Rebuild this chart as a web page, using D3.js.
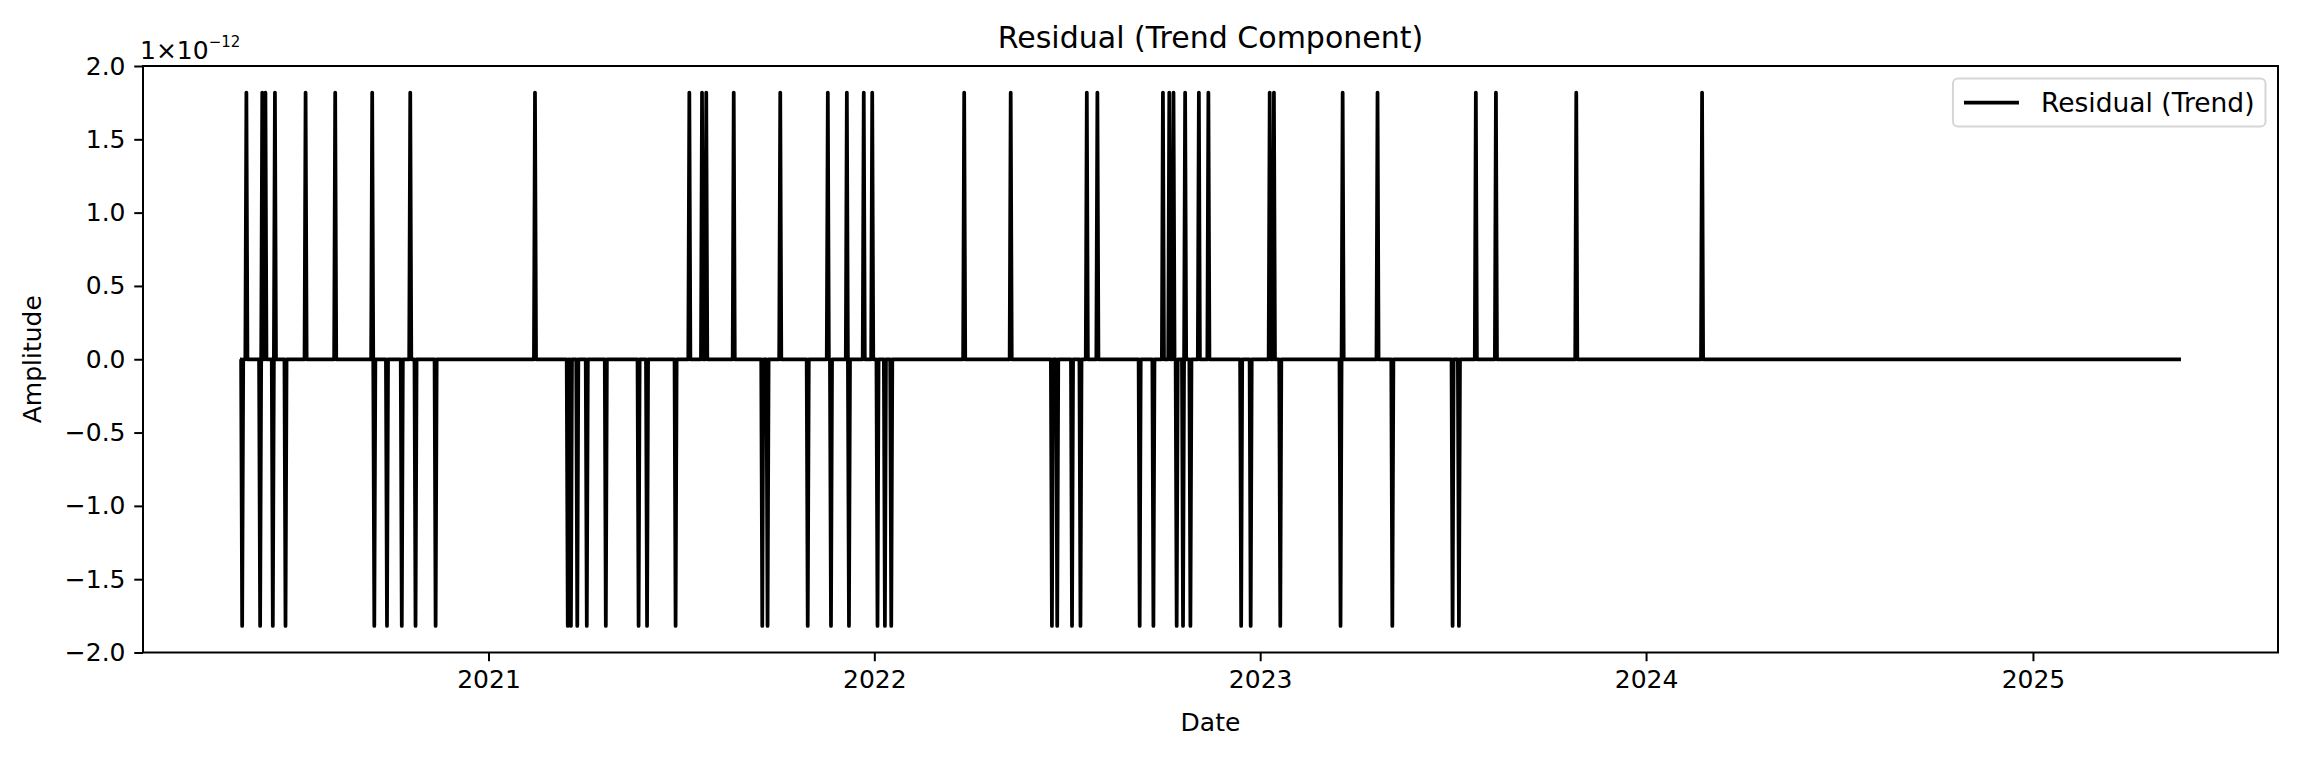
<!DOCTYPE html>
<html><head><meta charset="utf-8">
<script src="https://cdn.jsdelivr.net/npm/d3@7"></script>
<style>
body{margin:0;background:#fff}
svg text{font-family:"DejaVu Sans",sans-serif;fill:#000}
</style>
</head><body>
<svg id="c" width="2299" height="757"></svg>
<script>
// ---- data ----
const startDate = "2020-05-11";
const endDate   = "2025-05-21";
const baseValue = 0;
const spikeDates = [
 "2020-05-13","2020-05-17","2020-05-30","2020-06-01","2020-06-04","2020-06-11","2020-06-13","2020-06-23",
 "2020-07-12","2020-08-09","2020-09-13","2020-09-15","2020-09-27","2020-10-11","2020-10-19","2020-10-24","2020-11-12",
 "2021-02-14","2021-03-17","2021-03-20","2021-03-26","2021-04-04","2021-04-22","2021-05-23","2021-05-31","2021-06-27",
 "2021-07-10","2021-07-22","2021-07-26","2021-08-21","2021-09-17","2021-09-22","2021-10-04","2021-10-30",
 "2021-11-18","2021-11-21","2021-12-06","2021-12-08","2021-12-22","2021-12-30",
 "2022-01-04","2022-01-11","2022-01-17","2022-03-27","2022-05-10","2022-06-18","2022-06-23","2022-07-07","2022-07-15",
 "2022-07-21","2022-07-31","2022-09-09","2022-09-22","2022-10-01","2022-10-07","2022-10-11","2022-10-14","2022-10-20",
 "2022-10-22","2022-10-27","2022-11-04","2022-11-13","2022-12-14","2022-12-23",
 "2023-01-10","2023-01-14","2023-01-20","2023-03-18","2023-03-20","2023-04-22","2023-05-06","2023-07-02","2023-07-08",
 "2023-07-24","2023-08-12","2023-10-27",
 "2024-02-23"
];
const U = 1.819e-12, D = -1.819e-12;
const spikeValues = [
 D,U,D,U,U,D,U,D,
 U,U,U,D,D,D,U,D,D,
 U,D,D,D,D,D,D,D,D,
 U,U,U,U,D,D,U,D,
 U,D,U,D,U,U,
 D,D,D,U,U,D,D,D,D,
 U,U,D,D,U,U,U,D,D,
 U,D,U,U,D,D,
 U,U,D,D,U,U,D,D,D,
 U,U,U,
 U
];
const yTickValues = [-2e-12,-1.5e-12,-1e-12,-0.5e-12,0,0.5e-12,1e-12,1.5e-12,2e-12];
const xTickYears = [2021,2022,2023,2024,2025];
const titleText = "Residual (Trend Component)";
const xLabel = "Date", yLabel = "Amplitude", legendLabel = "Residual (Trend)";

// ---- build series ----
const parse = d3.timeParse("%Y-%m-%d");
const DAY = 864e5;
const pts = [{t: parse(startDate), v: baseValue}, {t: parse(endDate), v: baseValue}];
spikeDates.forEach((s,i)=>{
  const t = parse(s);
  pts.push({t:new Date(+t-DAY), v:baseValue});
  pts.push({t:t, v:spikeValues[i]});
  pts.push({t:new Date(+t+DAY), v:baseValue});
});
pts.sort((a,b)=>a.t-b.t || Math.abs(a.v)-Math.abs(b.v));

// ---- layout ----
const L=143, R=2278, T=66, B=652.5;
const svg = d3.select("#c");
const t0 = parse(startDate), t1 = parse(endDate);
const span = t1 - t0;
const x = d3.scaleTime().domain([new Date(+t0 - 0.05*span), new Date(+t1 + 0.05*span)]).range([L,R]);
const y = d3.scaleLinear().domain([-2e-12, 2e-12]).range([B,T]);

const fs = 25, tickLen = 8.75, tickPad = 8.75;
const fmt = v => { const s = d3.format(".1f")(v/1e-12); return s.replace("-", "\u2212"); };

// y axis
const ya = svg.append("g").attr("transform",`translate(${L},0)`)
  .call(d3.axisLeft(y).tickValues(yTickValues).tickFormat(fmt).tickSize(tickLen).tickPadding(tickPad));
ya.select(".domain").remove();
ya.selectAll("line").attr("stroke","#000").attr("stroke-width",2);
ya.selectAll("text").attr("font-size",fs).attr("font-family","DejaVu Sans").attr("fill","#000");

// x axis
const xa = svg.append("g").attr("transform",`translate(0,${B})`)
  .call(d3.axisBottom(x).tickValues(xTickYears.map(yr=>new Date(yr,0,1))).tickFormat(d3.timeFormat("%Y")).tickSize(tickLen).tickPadding(tickPad));
xa.select(".domain").remove();
xa.selectAll("line").attr("stroke","#000").attr("stroke-width",2);
xa.selectAll("text").attr("font-size",fs).attr("font-family","DejaVu Sans").attr("fill","#000");

// line
svg.append("path").datum(pts)
  .attr("d", d3.line().x(d=>x(d.t)).y(d=>y(d.v)))
  .attr("fill","none").attr("stroke","#000").attr("stroke-width",3.75)
  .attr("stroke-linejoin","round");

// frame
svg.append("rect").attr("x",L).attr("y",T).attr("width",R-L).attr("height",B-T)
  .attr("fill","none").attr("stroke","#000").attr("stroke-width",2);

// title & labels
svg.append("text").attr("x",(L+R)/2).attr("y",T-18).attr("text-anchor","middle")
  .attr("font-size",30).text(titleText);
svg.append("text").attr("x",(L+R)/2).attr("y",731).attr("text-anchor","middle")
  .attr("font-size",fs).text(xLabel);
svg.append("text").attr("transform",`translate(41,${(T+B)/2}) rotate(-90)`).attr("text-anchor","middle")
  .attr("font-size",fs).text(yLabel);

// offset text 1×10^-12
const off = svg.append("text").attr("x",140).attr("y",59).attr("font-size",fs);
off.append("tspan").text("1\u00d710");
off.append("tspan").attr("font-size",15).attr("dy",-12).text("\u221212");

// legend
const lg = svg.append("g");
const lfs = 26.5;
const lt = lg.append("text").attr("font-size",lfs).text(legendLabel);
const tw = lt.node().getComputedTextLength();
const bw = 11 + 55 + 22 + tw + 11, bh = 48;
const bx = R - 12.5 - bw, by = T + 12.5;
lg.insert("rect","text").attr("x",bx).attr("y",by).attr("width",bw).attr("height",bh)
  .attr("rx",5).attr("fill","#fff").attr("fill-opacity",0.8).attr("stroke","#d6d6d6").attr("stroke-width",2);
lg.append("line").attr("x1",bx+11).attr("x2",bx+66).attr("y1",by+bh/2).attr("y2",by+bh/2)
  .attr("stroke","#000").attr("stroke-width",3.75);
lt.attr("x",bx+88).attr("y",by+bh/2).attr("dy","0.35em");
</script>
</body></html>
